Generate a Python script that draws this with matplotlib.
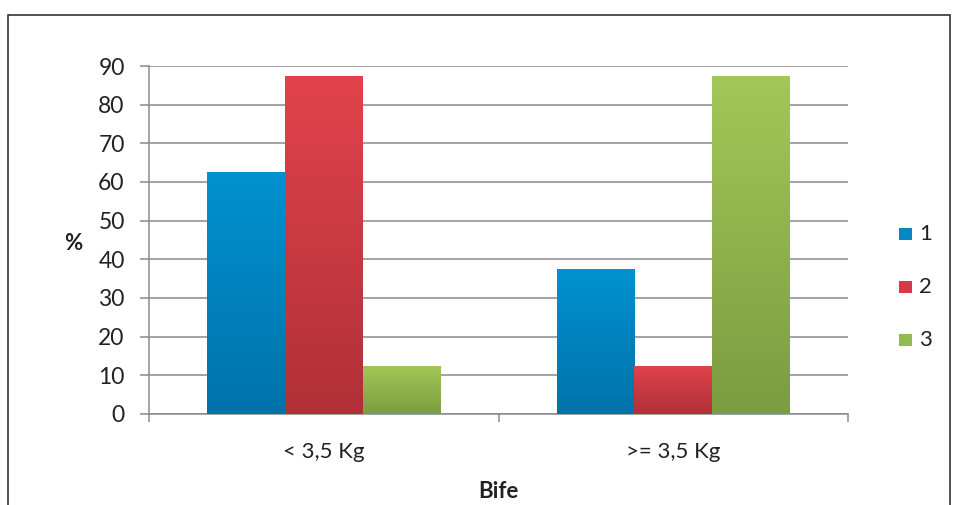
import matplotlib
matplotlib.use("Agg")
import matplotlib.pyplot as plt
import numpy as np
from matplotlib.colors import LinearSegmentedColormap
from matplotlib.patches import Rectangle

categories = ["< 3,5 Kg", ">= 3,5 Kg"]
series_names = ["1", "2", "3"]
s1 = [62.5, 37.5]
s2 = [87.5, 12.5]
s3 = [12.5, 87.5]
yticks = [0, 10, 20, 30, 40, 50, 60, 70, 80, 90]

colors_top = ["#0092cf", "#e2434c", "#a2c858"]
colors_bot = ["#0072aa", "#b03038", "#7b9c40"]
legend_colors = ["#0a86c4", "#d63a44", "#93bc4e"]

plt.rcParams['font.family'] = ['Lato', 'DejaVu Sans']

fig = plt.figure(figsize=(9.6, 5.05), dpi=100)
# outer border
fig.patches.append(Rectangle((8/960, -0.01), 942/960, (505-15)/505 + 0.01, transform=fig.transFigure,
                             fill=False, edgecolor="#333333", linewidth=1.2))

ax = fig.add_axes([149/960, (505-414)/505, 699/960, 348/505])
x = np.arange(len(categories))
w = 0.222
for i, (vals, ct, cb) in enumerate(zip([s1, s2, s3], colors_top, colors_bot)):
    bars = ax.bar(x + (i - 1) * w, vals, width=w, color=legend_colors[i], zorder=3, linewidth=0)
    cmap = LinearSegmentedColormap.from_list("g%d" % i, [cb, ct])
    for b in bars:
        x0, y0 = b.get_x(), b.get_y()
        bw, bh = b.get_width(), b.get_height()
        grad = np.linspace(0, 1, 256).reshape(-1, 1)
        im = ax.imshow(grad, cmap=cmap, origin="lower", aspect="auto",
                       extent=[x0, x0 + bw, y0, y0 + bh], zorder=4)
        im.set_clip_path(b)

ax.set_xlim(-0.5, 1.5)
ax.set_ylim(0, 90)
ax.set_yticks(yticks)
ax.set_yticklabels([str(t) for t in yticks], fontsize=16.5, color="#222222")
ax.yaxis.grid(True, color="#8a8a8a", linewidth=1.1, zorder=0)
ax.set_axisbelow(True)

ax.set_xticks([0, 1])
ax.set_xticklabels(categories, fontsize=16, color="#222222")
ax.set_xticks([-0.5, 0.5, 1.5], minor=True)
ax.tick_params(axis="x", which="major", length=0, pad=20)
ax.tick_params(axis="x", which="minor", length=6, color="#8a8a8a", width=1.1)
ax.tick_params(axis="y", length=6.5, color="#8a8a8a", width=1.1, pad=11)

for s in ["top", "right"]:
    ax.spines[s].set_visible(False)
ax.spines["left"].set_color("#8a8a8a")
ax.spines["bottom"].set_color("#8a8a8a")
ax.spines["left"].set_linewidth(1.1)
ax.spines["bottom"].set_linewidth(1.1)

fig.text(73/960, 1 - 243/505, "%", fontsize=16, fontweight="bold", ha="center", va="center", color="#222222")
fig.text(498/960, 1 - 492/505, "Bife", fontsize=16, fontweight="bold", ha="center", va="center", color="#222222")

# legend
for i, name in enumerate(series_names):
    yy = 234 + i * 53
    fig.patches.append(Rectangle((899/960, 1 - (yy + 6) / 505), 13/960, 12/505, transform=fig.transFigure,
                                 facecolor=legend_colors[i], edgecolor="none"))
    fig.text(919/960, 1 - yy / 505, name, fontsize=16, ha="left", va="center", color="#222222")

fig.savefig("out.png", dpi=100)
